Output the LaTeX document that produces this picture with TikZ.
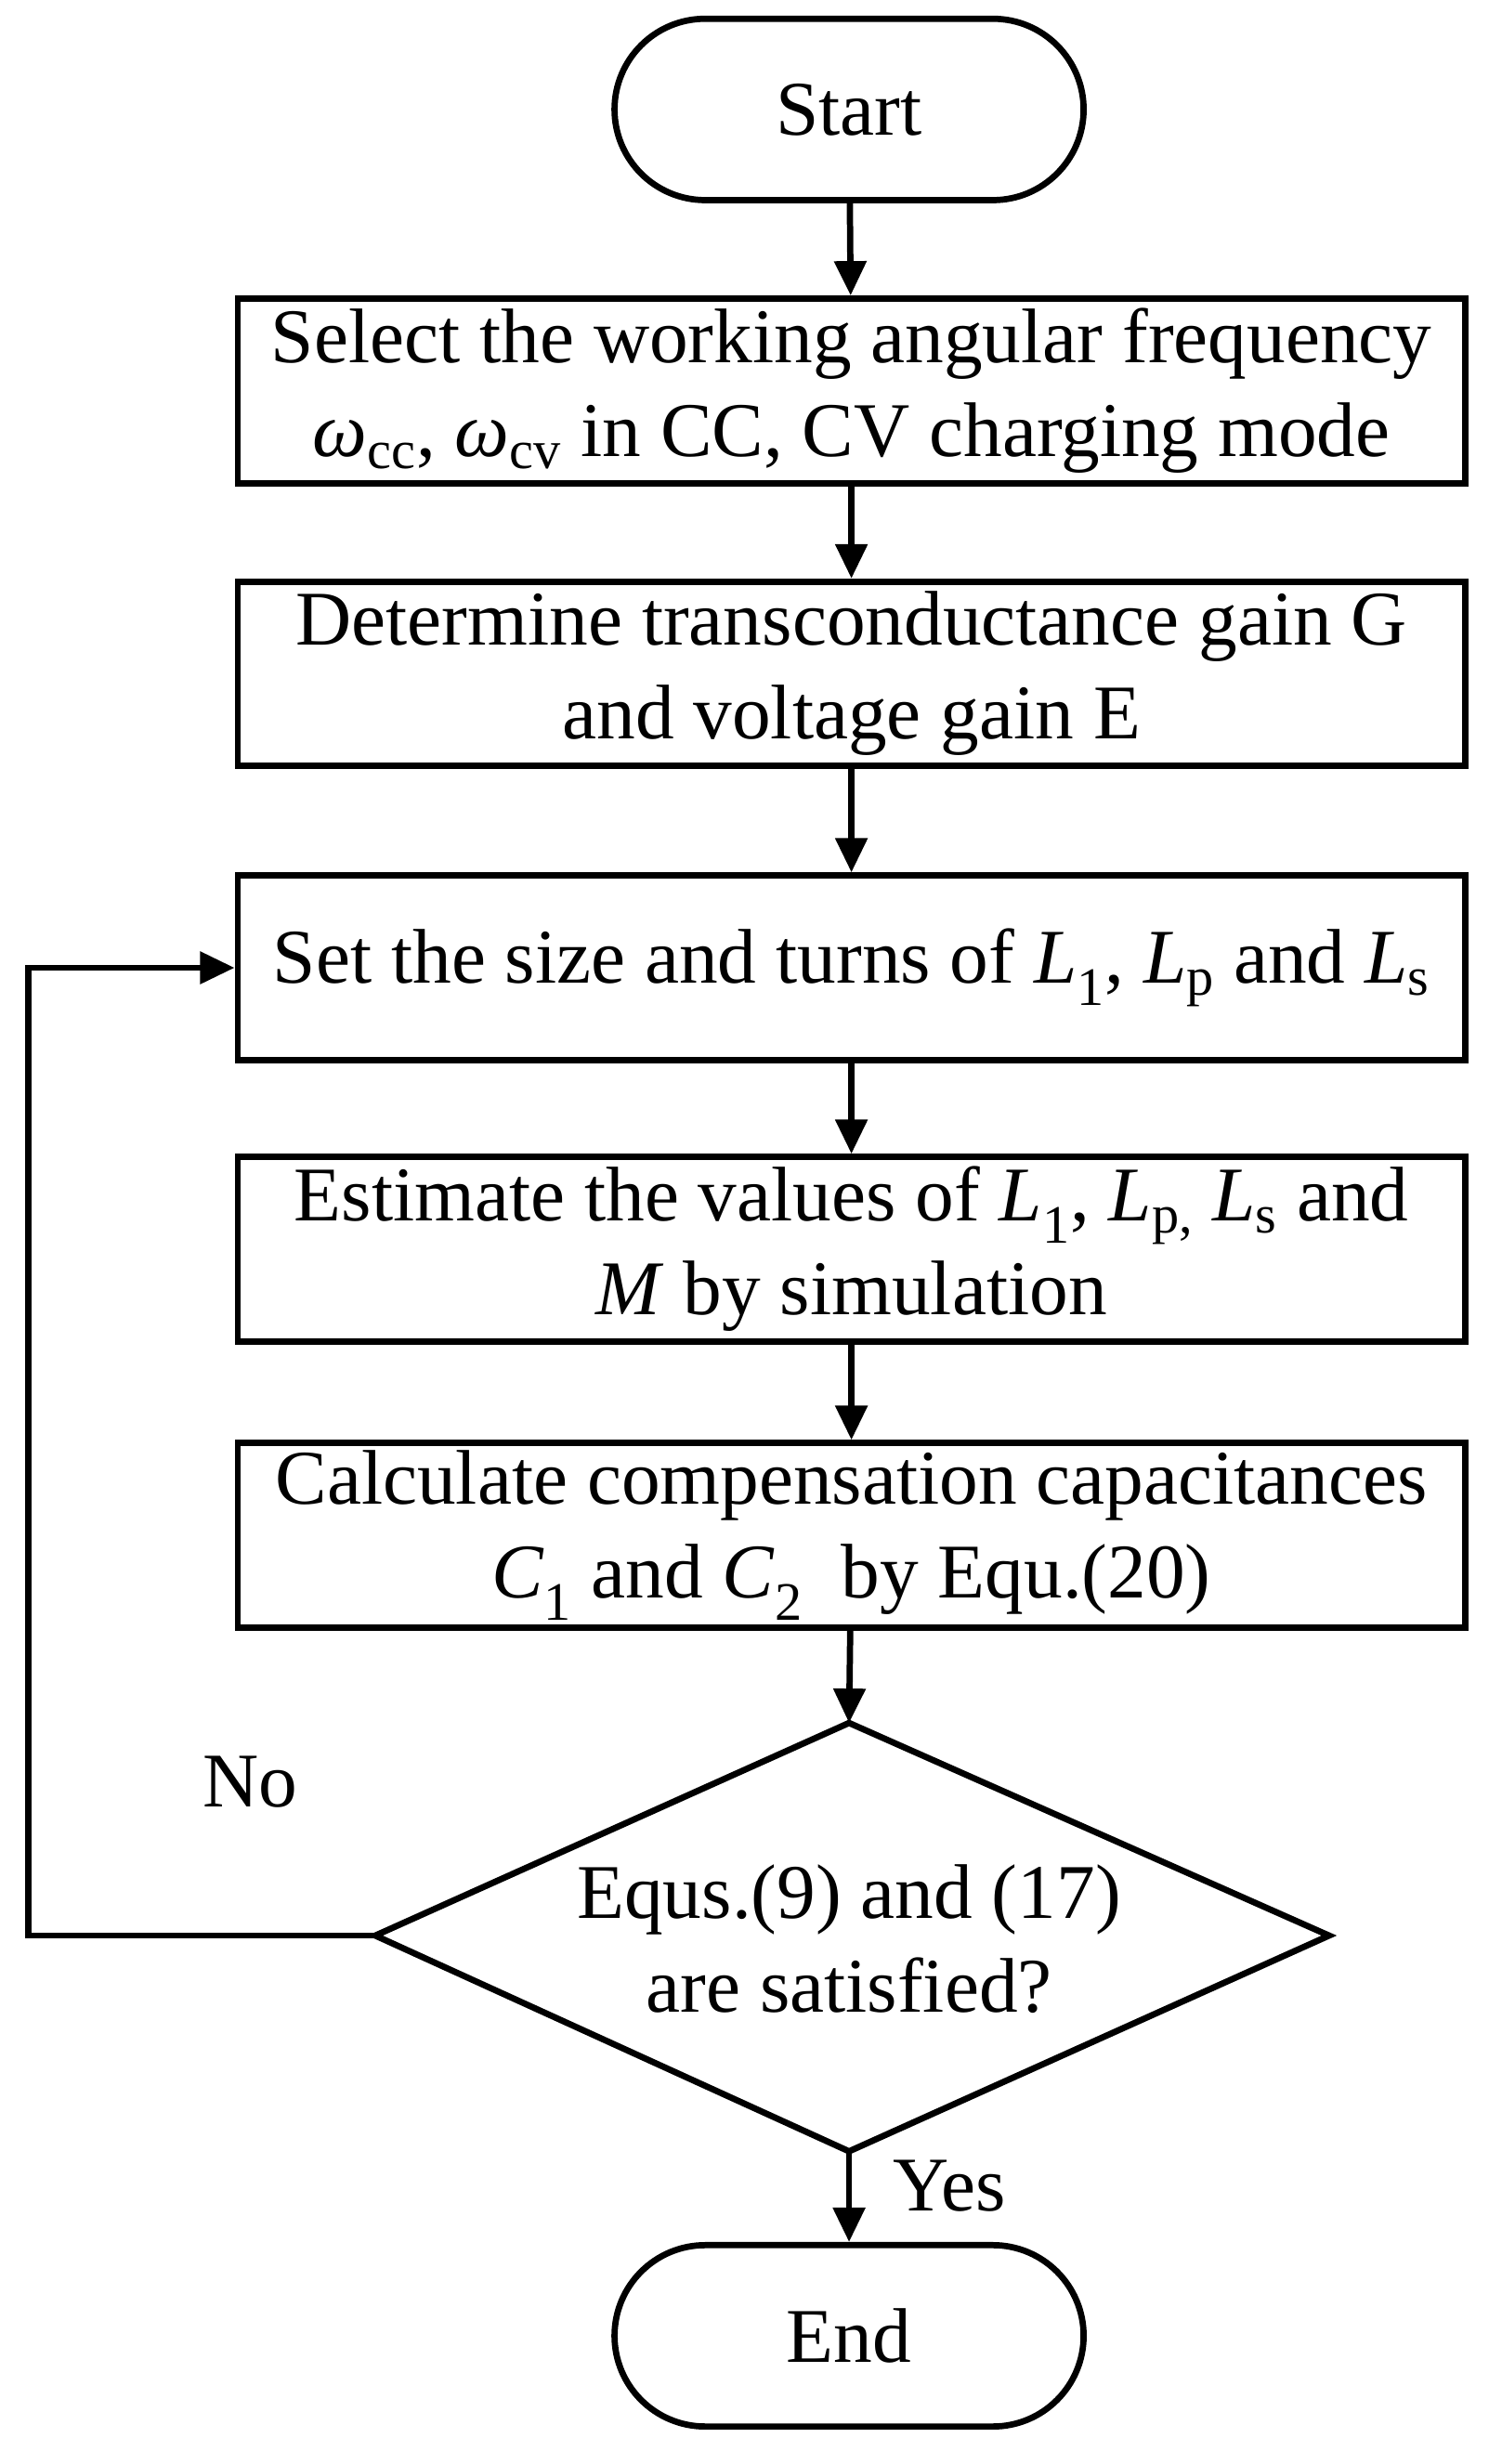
\documentclass[tikz,border=0pt]{standalone}
\usepackage{fontspec}
\setmainfont{Liberation Serif}
\usetikzlibrary{shapes.geometric,arrows.meta}
\newcommand{\iv}[2]{\textit{#1}\textsubscript{#2}}
\begin{document}
\begin{tikzpicture}[x=1pt,y=-1pt,
  every node/.style={font=\fontsize{49.5}{60}\selectfont},
  ln/.style={line width=4pt},
  box/.style={ln,draw,minimum width=785pt,minimum height=118pt,align=center,inner sep=0pt},
  term/.style={ln,draw,rounded corners=58pt,minimum width=300pt,minimum height=116pt},
  arr/.style={ln,-{Triangle[length=22pt,width=20pt]}}]
\useasboundingbox (0,0) rectangle (960,1576);
\node[term] (s) at (543,70) {Start};
\node[box] (b1) at (544.5,250) {Select the working angular frequency\\\iv{ω}{cc}, \iv{ω}{cv} in CC, CV charging mode};
\node[box] (b2) at (544.5,431) {Determine transconductance gain G\\and voltage gain E};
\node[box] (b3) at (544.5,619) {Set the size and turns of \iv{L}{1}, \iv{L}{p} and \iv{L}{s}};
\node[box] (b4) at (544.5,799) {Estimate the values of \iv{L}{1}, \iv{L}{p,} \iv{L}{s} and\\\textit{M} by simulation};
\node[box] (b5) at (544.5,982) {Calculate compensation capacitances\\\iv{C}{1} and \iv{C}{2}\ \ by Equ.(20)};
\draw[ln] (240,1238) coordinate (dl) -- (543,1102) coordinate (dt) -- (850,1238) -- (543,1376) coordinate (db) -- cycle;
\node[align=center] (d) at (543,1240) {Equs.(9) and (17)\\are satisfied?};
\node[term] (e) at (543,1494) {End};
\draw[arr] (s) -- (b1);
\draw[arr] (b1) -- (b2);
\draw[arr] (b2) -- (b3);
\draw[arr] (b3) -- (b4);
\draw[arr] (b4) -- (b5);
\draw[arr] (b5) -- (dt);
\draw[arr] (db) -- (e);
\coordinate (c1) at (18,1238);
\coordinate (c2) at (18,619);
\draw[arr] (dl) -- (c1) -- (c2) -- (b3.west);
\node (no) at (160,1140) {No};
\node (yes) at (607,1398) {Yes};
\end{tikzpicture}
\end{document}
